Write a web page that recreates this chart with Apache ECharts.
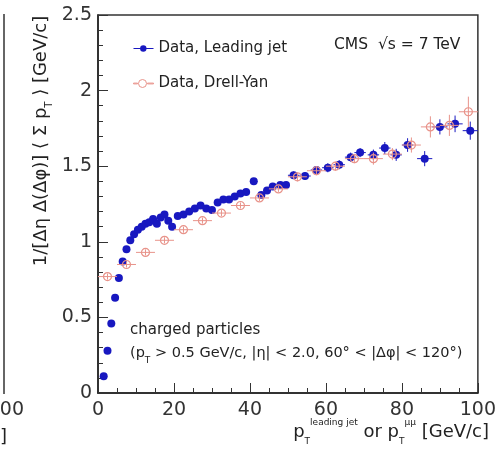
<!DOCTYPE html>
<html><head><meta charset="utf-8">
<script src="https://cdn.jsdelivr.net/npm/echarts@6/dist/echarts.min.js"></script>
<style>html,body{margin:0;padding:0;background:#fff}#c{width:499px;height:450px}</style>
</head><body><div id="c"></div>
<script>
// Leading jet data
const jetX   = [1.5,2.5,3.5,4.5,5.5,6.5,7.5,8.5,9.5,10.5,11.5,12.5,13.5,14.5,15.5,16.5,17.5,18.5,19.5,21,22.5,24,25.5,27,28.5,30,31.5,33,34.5,36,37.5,39,41,43,44.5,46,48,49.5,51.5,54.5,57.5,60.5,63.5,66.5,69,72.5,75.5,78.5,81.5,86,90,94,98];
const jetY   = [0.11,0.28,0.46,0.63,0.76,0.87,0.95,1.01,1.05,1.08,1.10,1.12,1.13,1.15,1.12,1.16,1.18,1.14,1.10,1.17,1.18,1.20,1.22,1.24,1.22,1.21,1.26,1.28,1.28,1.30,1.32,1.33,1.40,1.31,1.34,1.365,1.375,1.375,1.44,1.435,1.475,1.49,1.51,1.56,1.59,1.575,1.62,1.575,1.64,1.55,1.76,1.78,1.735];
const jetErrY= [0.01,0.01,0.01,0.01,0.01,0.01,0.01,0.01,0.01,0.01,0.01,0.01,0.01,0.01,0.01,0.01,0.01,0.01,0.01,0.01,0.01,0.01,0.01,0.01,0.01,0.01,0.015,0.015,0.015,0.015,0.015,0.015,0.02,0.02,0.02,0.02,0.02,0.02,0.025,0.025,0.025,0.03,0.03,0.03,0.03,0.035,0.04,0.04,0.045,0.05,0.05,0.055,0.06];
const jetErrX= [0.5,0.5,0.5,0.5,0.5,0.5,0.5,0.5,0.5,0.5,0.5,0.5,0.5,0.5,0.5,0.5,0.5,0.5,0.5,0.75,0.75,0.75,0.75,0.75,0.75,0.75,0.75,0.75,0.75,0.75,0.75,0.75,1,1,1,1,1,1,1.5,1.5,1.5,1.5,1.5,1.5,1.5,1.5,1.5,1.5,1.5,2,2,2,2];
// Drell-Yan data
const dyX    = [2.5,7.5,12.5,17.5,22.5,27.5,32.5,37.5,42.5,47.5,52.5,57.5,62.5,67.5,72.5,77.5,82.5,87.5,92.5,97.5];
const dyY    = [0.77,0.85,0.93,1.01,1.08,1.14,1.19,1.24,1.29,1.35,1.43,1.47,1.50,1.55,1.55,1.58,1.64,1.76,1.77,1.86];
const dyErrX = [2.5,2.5,2.5,2.5,2.5,2.5,2.5,2.5,2.5,2.5,2.5,2.5,2.5,2.5,2.5,2.5,2.5,2.5,2.5,2.5];
const dyErrY = [0.02,0.02,0.02,0.02,0.02,0.02,0.02,0.02,0.02,0.02,0.03,0.03,0.03,0.03,0.04,0.04,0.05,0.07,0.07,0.10];
// tick labels
const xTicks = [0,20,40,60,80,100];
const yTicks = [0,0.5,1,1.5,2,2.5];

const FONT = 'DejaVu Sans';
const BLUE = '#1818c0';
const PINK = '#e8938a';
const TXT = '#222';

function errorRender(color) {
  return function (params, api) {
    const x = api.value(0), y = api.value(1), ex = api.value(2), ey = api.value(3);
    const c = api.coord([x, y]);
    const lo = api.coord([x, y - ey]), hi = api.coord([x, y + ey]);
    const l = api.coord([Math.max(0, x - ex), y]), r = api.coord([x + ex, y]);
    const style = { stroke: color, lineWidth: 1 };
    return { type: 'group', children: [
      { type: 'line', shape: { x1: c[0], y1: lo[1], x2: c[0], y2: hi[1] }, style },
      { type: 'line', shape: { x1: l[0], y1: c[1], x2: r[0], y2: c[1] }, style }
    ] };
  };
}

const jetPts = jetX.map((x, i) => [x, jetY[i]]);
const jetErr = jetX.map((x, i) => [x, jetY[i], jetErrX[i], jetErrY[i]]);
const dyPts = dyX.map((x, i) => [x, dyY[i]]);
const dyErr = dyX.map((x, i) => [x, dyY[i], dyErrX[i], dyErrY[i]]);

const chart = echarts.init(document.getElementById('c'));
chart.setOption({
  animation: false,
  backgroundColor: '#fff',
  grid: { left: 98, top: 15, width: 386, height: 378, show: true, borderColor: '#333', borderWidth: 1.5, backgroundColor: 'transparent' },
  xAxis: {
    type: 'value', min: 0, max: 100, interval: 20,
    axisLine: { onZero: false, lineStyle: { color: '#222', width: 1.5 } },
    axisTick: { inside: true, length: 10, lineStyle: { color: '#333', width: 1 } },
    minorTick: { show: true, splitNumber: 4, length: 5, lineStyle: { color: '#333', width: 1 } },
    splitLine: { show: false },
    axisLabel: { fontFamily: FONT, fontSize: 19, color: '#333', margin: 8, showMaxLabel: true,
      formatter: v => xTicks.includes(v) ? String(v) : '' }
  },
  yAxis: {
    type: 'value', min: 0, max: 2.5, interval: 0.5,
    axisLine: { onZero: false, lineStyle: { color: '#222', width: 1.5 } },
    axisTick: { inside: true, length: 10, lineStyle: { color: '#333', width: 1 } },
    minorTick: { show: true, splitNumber: 5, length: 5, lineStyle: { color: '#333', width: 1 } },
    splitLine: { show: false },
    axisLabel: { fontFamily: FONT, fontSize: 19, color: '#333', margin: 6,
      formatter: v => { const t = yTicks.find(a => Math.abs(a - v) < 1e-9); return t === undefined ? '' : String(t); } }
  },
  legend: {
    orient: 'vertical', left: 128, top: 36, itemWidth: 20, itemHeight: 8, itemGap: 20,
    textStyle: { fontFamily: FONT, fontSize: 15, color: TXT },
    data: [
      { name: 'Data, Leading jet', icon: 'path://M0,3.6 H20 V4.4 H0 Z M13,4 A3.2,3.2 0 1 1 6.6,4 A3.2,3.2 0 1 1 13,4 Z M0,0 H0.01 V8 H0 Z',
        itemStyle: { color: BLUE, borderWidth: 0 } },
      { name: 'Data, Drell-Yan', icon: 'path://M0,3.6 H4 V4.4 H0 Z M14,3.6 H20 V4.4 H14 Z M13,4 A4,4 0 1 1 5,4 A4,4 0 1 1 13,4 Z',
        itemStyle: { color: 'rgba(255,255,255,0)', borderColor: PINK, borderWidth: 1 } }
    ]
  },
  series: [
    { type: 'custom', renderItem: errorRender(BLUE), data: jetErr, z: 2, silent: true },
    { name: 'Data, Leading jet', type: 'scatter', data: jetPts, symbol: 'circle', symbolSize: 8,
      itemStyle: { color: BLUE, opacity: 1 }, z: 3 },
    { type: 'custom', renderItem: errorRender(PINK), data: dyErr, z: 4, silent: true },
    { name: 'Data, Drell-Yan', type: 'scatter', data: dyPts, symbol: 'circle', symbolSize: 8,
      itemStyle: { color: 'rgba(255,255,255,0)', borderColor: PINK, borderWidth: 1.2, opacity: 1 }, z: 5 }
  ],
  graphic: [
    { type: 'text', x: 41, y: 141, rotation: Math.PI / 2, z: 10,
      style: { text: '{n|1/[Δη Δ(Δφ)] ⟨ Σ p}{sub|T}{n| ⟩ [GeV/c]}', align: 'center', verticalAlign: 'middle',
        rich: { n: { fontFamily: FONT, fontSize: 18, lineHeight: 26, verticalAlign: 'middle', fill: TXT },
                sub: { fontFamily: FONT, fontSize: 10, lineHeight: 12, verticalAlign: 'bottom', fill: TXT } } } },
    { type: 'text', x: 489, y: 432, z: 10,
      style: { text: '{n|p}{sub|T}{sup|leading jet}{n| or p}{sub|T}{sup|μμ}{n| [GeV/c]}', align: 'right', verticalAlign: 'middle',
        rich: { n: { fontFamily: FONT, fontSize: 18, lineHeight: 28, verticalAlign: 'middle', fill: TXT },
                sub: { fontFamily: FONT, fontSize: 9, lineHeight: 11, verticalAlign: 'bottom', fill: TXT },
                sup: { fontFamily: FONT, fontSize: 9, lineHeight: 11, verticalAlign: 'top', fill: TXT } } } },
    { type: 'text', x: 334, y: 45, z: 10,
      style: { text: 'CMS  √s = 7 TeV', fontFamily: FONT, fontSize: 15.5, fill: TXT, verticalAlign: 'middle' } },
    { type: 'text', x: 130, y: 330, z: 10,
      style: { text: 'charged particles', fontFamily: FONT, fontSize: 15, fill: TXT, verticalAlign: 'middle' } },
    { type: 'text', x: 130, y: 353, z: 10,
      style: { text: '{n|(p}{sub|T}{n| > 0.5 GeV/c, |η| < 2.0, 60° < |Δφ| < 120°)}', verticalAlign: 'middle',
        rich: { n: { fontFamily: FONT, fontSize: 14.5, lineHeight: 24, verticalAlign: 'middle', fill: TXT },
                sub: { fontFamily: FONT, fontSize: 9, lineHeight: 11, verticalAlign: 'bottom', fill: TXT } } } },
    // edge of neighbouring panel
    { type: 'line', shape: { x1: 4, y1: 14, x2: 4, y2: 394 }, style: { stroke: '#333', lineWidth: 1.5 } },
    { type: 'text', x: 24, y: 410, style: { text: '100', fontFamily: FONT, fontSize: 19, fill: '#333', align: 'right', verticalAlign: 'middle' } },
    { type: 'text', x: 0, y: 437, style: { text: ']', fontFamily: FONT, fontSize: 18, fill: TXT, align: 'left', verticalAlign: 'middle' } }
  ]
});
</script>
</body></html>
